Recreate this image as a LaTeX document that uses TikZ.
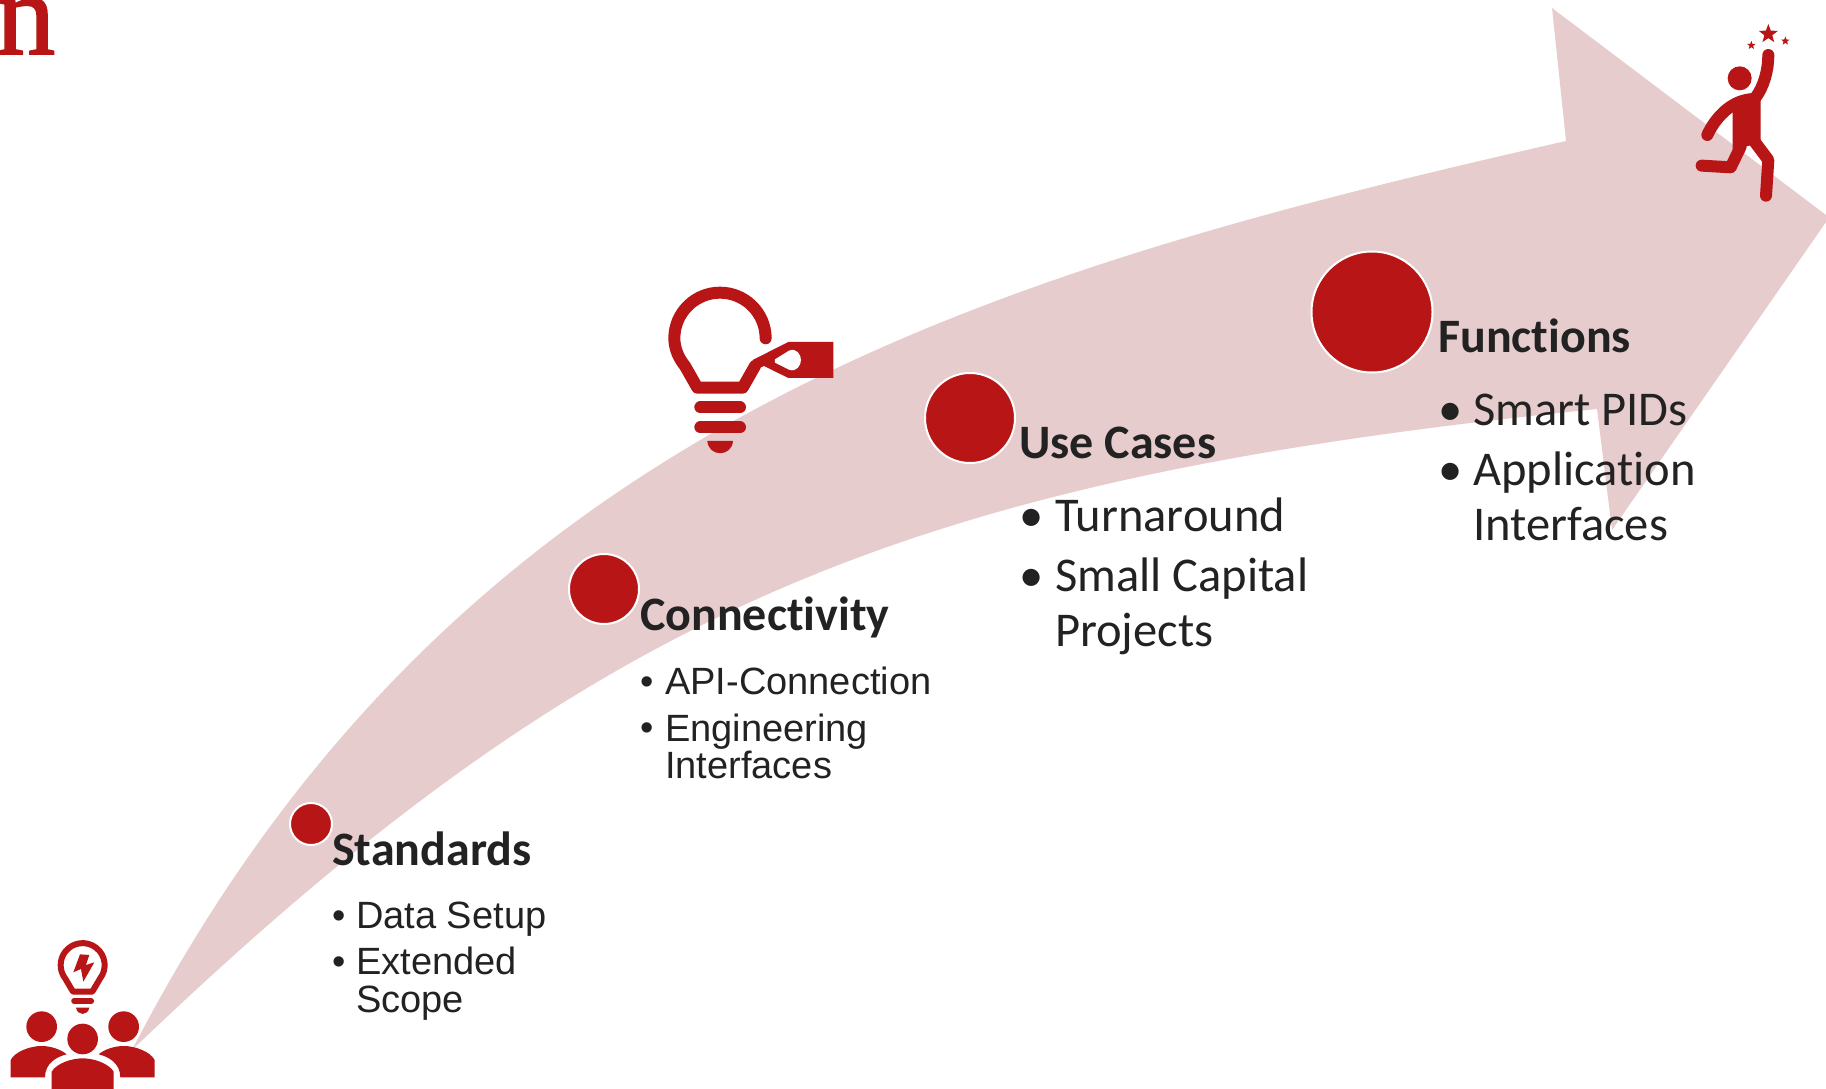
\documentclass[tikz,border=0pt]{standalone}
\usepackage{fontspec}
\setmainfont[Ligatures=CommonOff]{Carlito}
\newfontfamily\armo{Liberation Sans}
\newfontfamily\titlefont[FakeBold=1.6]{Liberation Serif}
\usetikzlibrary{shapes.geometric}
\definecolor{darkred}{HTML}{B71516}
\definecolor{arrowpink}{HTML}{E7CCCD}
\definecolor{inkgray}{HTML}{222222}
\tikzset{
  dot/.style={circle,fill=darkred,draw=white,line width=2pt,inner sep=0pt,minimum size=#1},
  headline/.style={anchor=base west,inner sep=0pt,text=inkgray,font=\fontsize{48}{58}\selectfont\bfseries},
  bodyline/.style={anchor=base west,inner sep=0pt,text=inkgray,font=\fontsize{48.5}{58}\selectfont},
  armline/.style={anchor=base west,inner sep=0pt,text=inkgray,font=\armo\fontsize{38}{46}\selectfont},
  limb/.style={draw=darkred,line width=12pt,line cap=round,line join=round},
  sparkle/.style={star,star points=5,star point ratio=2.4,fill=darkred,inner sep=0pt,minimum size=#1},
}
\begin{document}
\begin{tikzpicture}[x=1pt,y=-1pt]
  \useasboundingbox (0,0) rectangle (1826,1089);

  % big arrow
  \fill[arrowpink] (132,1050) .. controls (454,427) and (981,274) .. (1566,141)
    -- (1552,8) -- (1826,215) -- (1826,222) -- (1612,530) -- (1597,409)
    .. controls (904,479) and (593,608) .. (132,1050) -- cycle;

  \node[anchor=base west,inner sep=0pt,text=darkred,font=\titlefont\fontsize{118}{118}\selectfont] (cutoff) at (-4,54) {n};

  % circles on the arrow
  \node[dot=42pt] (p1) at (311,824) {};
  \node[dot=70pt] (p2) at (604,589) {};
  \node[dot=90pt] (p3) at (970,418) {};
  \node[dot=121pt] (p4) at (1372,312) {};

  % texts
  \node[headline] (standards) at (332,865) {Standards};
  \node[armline] (b1) at (332,928) {•};
  \node[armline] (s1) at (356,928) {Data Setup};
  \node[armline] (b2) at (332,974) {•};
  \node[armline] (s2) at (356,974) {Extended};
  \node[armline] (s3) at (356,1012) {Scope};

  \node[headline] (connectivity) at (640,630) {Connectivity};
  \node[armline] (b3) at (640,694) {•};
  \node[armline] (c1) at (665,694) {API-Connection};
  \node[armline] (b4) at (640,740) {•};
  \node[armline] (c2) at (665,741) {Engineering};
  \node[armline] (c3) at (665,778) {Interfaces};

  \node[headline] (usecases) at (1019,458) {Use Cases};
  \node[bodyline] (b5) at (1019,531) {•};
  \node[bodyline] (u1) at (1055,531) {Turnaround};
  \node[bodyline] (b6) at (1019,591) {•};
  \node[bodyline] (u2) at (1055,591) {Small Capital};
  \node[bodyline] (u3) at (1055,646) {Projects};

  \node[headline] (functions) at (1438,352) {Functions};
  \node[bodyline] (b7) at (1438,425) {•};
  \node[bodyline] (f1) at (1473,425) {Smart PIDs};
  \node[bodyline] (b8) at (1438,485) {•};
  \node[bodyline] (f2) at (1473,485) {Application};
  \node[bodyline] (f3) at (1473,540) {Interfaces};

  % people with lamp
  \begin{scope}[shift={(0,900)},scale=0.3333]
    \draw[darkred,line width=6pt,line join=round] (300,236) arc[start angle=38,end angle=-218,radius=66] -- (219,275) -- (277,275) -- cycle;
    \fill[darkred] (240,163) -- (220,217) -- (243,207) -- (250,245) -- (283,187) -- (258,195) -- (268,165) -- cycle;
    \draw[darkred,line width=5.5pt,line cap=round] (222,303) -- (274,303);
    \fill[darkred] (228,323) .. controls (232,348) and (264,348) .. (268,323) -- cycle;
    \fill[darkred] (125,380) circle (46);
    \fill[darkred] (371,380) circle (46);
    \fill[darkred] (248,417) circle (46);
    \fill[darkred] (32,532) -- (32,480) .. controls (45,455) and (90,438) .. (125,438) .. controls (155,438) and (185,450) .. (200,463) .. controls (170,470) and (135,490) .. (135,532) -- cycle;
    \fill[darkred] (464,532) -- (464,480) .. controls (451,455) and (406,438) .. (371,438) .. controls (341,438) and (311,450) .. (296,463) .. controls (326,470) and (361,490) .. (361,532) -- cycle;
    \fill[darkred] (155,570) -- (155,515) .. controls (170,490) and (215,475) .. (248,475) .. controls (281,475) and (326,490) .. (341,515) -- (341,570) -- cycle;
  \end{scope}

  % lamp with tag
  \begin{scope}[shift={(640,260)},scale=0.3333]
    \draw[limb] (377,235) arc[start angle=0,end angle=-180,radius=137] .. controls (103,270) and (120,300) .. (135,318) -- (172,383) -- (308,383) -- (345,318);
    \fill[darkred] (338,300) -- (445,246) -- (580,246) -- (580,354) -- (445,354) -- (372,318) -- (345,330) -- cycle;
    \fill[white] (405,298) -- (447,272) .. controls (470,262) and (483,285) .. (483,300) .. controls (483,315) and (470,338) .. (447,329) -- (405,308) -- cycle;
    \draw[limb] (181,442) -- (300,442);
    \draw[limb] (181,502) -- (300,502);
    \fill[darkred] (202,543) .. controls (206,592) and (275,592) .. (279,543) -- cycle;
  \end{scope}

  % climbing figure
  \begin{scope}[shift={(1660,0)},scale=0.3333]
    \fill[darkred] (239,235) circle (36);
    \draw[limb] (325,165) .. controls (325,210) and (312,260) .. (285,295);
    \draw[limb] (142,405) .. controls (165,355) and (210,305) .. (270,298);
    \fill[darkred] (218,335) -- (270,280) -- (302,290) -- (302,432) -- (262,438) -- (218,450) -- cycle;
    \draw[limb] (125,497) -- (212,502) -- (242,440);
    \draw[limb] (280,420) -- (325,480) -- (318,587);
    \node[sparkle=20pt] (bigstar) at (325,102) {};
    \node[sparkle=9pt] (leftstar) at (274,136) {};
    \node[sparkle=9pt] (rightstar) at (376,123) {};
  \end{scope}
\end{tikzpicture}
\end{document}
